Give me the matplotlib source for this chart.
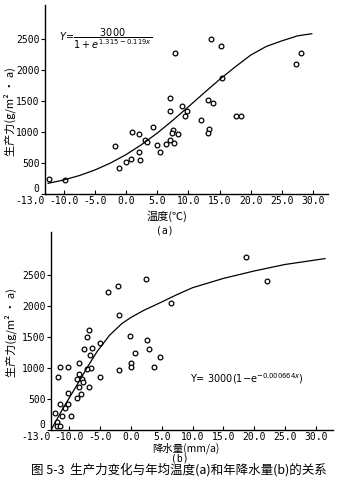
import matplotlib.pyplot as plt

plt.rcParams['font.family'] = ['Noto Sans CJK SC', 'DejaVu Sans']

# (a) productivity vs temperature
temp_x = [-12.4, -9.8, -1.8, -1.2, 0.0, 0.75, 0.97, 2.0, 2.0, 2.26, 3.1, 3.4,
          4.35, 4.95, 5.4, 6.45, 7.1, 7.1, 7.1, 7.5, 7.4, 7.7, 7.9, 8.4, 8.9,
          9.5, 9.7, 12.0, 13.2, 13.3, 13.2, 13.7, 13.9, 15.2, 15.4, 17.7, 18.5,
          27.2, 28.1]
temp_y = [247, 231, 780, 420, 516, 570, 1005, 968, 672, 554, 876, 833,
          1075, 785, 677, 806, 1543, 1333, 876, 1038, 984, 822, 2274, 968, 1425,
          1253, 1333, 1188, 1521, 1054, 984, 2500, 1468, 2382, 1876, 1253, 1253,
          2097, 2274]
curve_a_x = [-12.5, -10, -7.5, -5, -2.5, 0, 2.5, 5, 7.5, 10, 12.5, 15, 17.5,
             20, 22.5, 25, 27.5, 29.8]
curve_a_y = [172, 226, 297, 387, 499, 635, 797, 982, 1188, 1406, 1629, 1846,
             2049, 2240, 2380, 2470, 2550, 2585]

# (b) productivity vs precipitation
rain_x = [18.75, 22.0, 2.45, -2.07, -3.8, -2.0, 6.5, -6.9, -7.2, -5.05, -7.7,
          -6.4, -6.7, -0.1, 2.66, 2.9, 0.7, 4.7, 0.05, 0.05, 3.7, -2.0, -5.0,
          -6.5, -7.1, -8.4, -11.6, -10.3, -11.8, -8.4, -8.75, -8.0, -7.8, -8.5,
          -6.8, -8.15, -8.8, -10.3, -10.3, -11.6, -10.8, -9.7, -11.25, -12.3,
          -12.0, -12.1, -11.5]
rain_y = [2796, 2403, 2435, 2333, 2236, 1860, 2054, 1613, 1505, 1408, 1317,
          1322, 1220, 1516, 1462, 1312, 1247, 1183, 1086, 1011, 1011, 968, 849,
          995, 978, 1075, 1016, 1011, 855, 903, 822, 822, 780, 699,
          688, 581, 511, 591, 419, 419, 349, 226, 226, 274,
          134, 65, 65]
curve_b_x = [-13, -11, -9, -7, -5.5, -3.5, -1.5, 0, 2, 5, 7.5, 10, 15, 20, 25,
             31.5]
curve_b_y = [0, 360, 690, 1030, 1270, 1530, 1720, 1820, 1930, 2070, 2190, 2300,
             2450, 2570, 2675, 2770]

xticks = [-13, -10, -5, 0, 5, 10, 15, 20, 25, 30]
xtick_labels = ['-13.0', '-10.0', '-5.0', '0.0', '5.0', '10.0', '15.0', '20.0',
                '25.0', '30.0']
yticks = [0, 500, 1000, 1500, 2000, 2500]

fig = plt.figure(figsize=(3.61, 4.94), dpi=100)
ax1 = fig.add_axes([45 / 361, 300 / 494, 283 / 361, 189 / 494])
ax2 = fig.add_axes([51 / 361, 64 / 494, 282 / 361, 198 / 494])

mono = ['DejaVu Sans Mono']


def style(ax, xmax, ymax):
    ax.set_xlim(-13, xmax)
    ax.set_ylim(0, ymax)
    for s in ['top', 'right']:
        ax.spines[s].set_visible(False)
    for s in ['left', 'bottom']:
        ax.spines[s].set_linewidth(1.0)
    ax.set_xticks(xticks)
    ax.set_xticklabels(xtick_labels, family=mono, fontsize=7)
    ax.get_xticklabels()[0].set_ha('right')
    ax.set_yticks(yticks)
    ax.set_yticklabels([str(v) for v in yticks], family=mono, fontsize=7)
    ax.get_yticklabels()[0].set_va('bottom')
    ax.tick_params(axis='x', direction='in', length=3, pad=1.5, width=0.8)
    ax.tick_params(axis='y', direction='out', length=3, pad=1, width=0.8)
    ax.set_ylabel('生产力(g/m² • a)', fontsize=8, va='center')


mk = dict(ls='none', marker='o', ms=3.4, mfc='white', mec='black', mew=0.9)

ax1.plot(temp_x, temp_y, **mk)
ax1.plot(curve_a_x, curve_a_y, color='black', lw=0.9)
style(ax1, 32.4, 3048)
ax1.text(-10.8, 2500, r'$Y\!=\!\dfrac{3000}{1+e^{1.315-0.119x}}$', fontsize=7,
         family='DejaVu Sans', va='center')
ax1.set_xlabel('温度(℃)', fontsize=8, va='center')
ax1.xaxis.set_label_coords((167 - 45) / 283, -22 / 189)
ax1.yaxis.set_label_coords(-35 / 283, (194 - 112) / 189)
fig.text(165 / 361, 1 - 230 / 494, '(a)', fontsize=7, ha='center', va='center',
         family=mono)

ax2.plot(rain_x, rain_y, **mk)
ax2.plot(curve_b_x, curve_b_y, color='black', lw=0.9)
style(ax2, 32.8, 3200)
ax2.text(9.5, 830, r'Y= 3000(1$-$e$^{-0.000664x}$)', fontsize=7,
         family='DejaVu Sans', va='center')
ax2.set_xlabel('降水量(mm/a)', fontsize=7.5, va='center')
ax2.xaxis.set_label_coords((186 - 51) / 282, -18.5 / 198)
ax2.yaxis.set_label_coords(-40 / 282, (430 - 333) / 198)
fig.text(180 / 361, 1 - 458 / 494, '(b)', fontsize=7, ha='center', va='center',
         family=mono)
fig.text(179 / 361, 1 - 470 / 494,
         '图 5-3  生产力变化与年均温度(a)和年降水量(b)的关系',
         fontsize=9, ha='center', va='center')

fig.savefig('out.png', dpi=100)
